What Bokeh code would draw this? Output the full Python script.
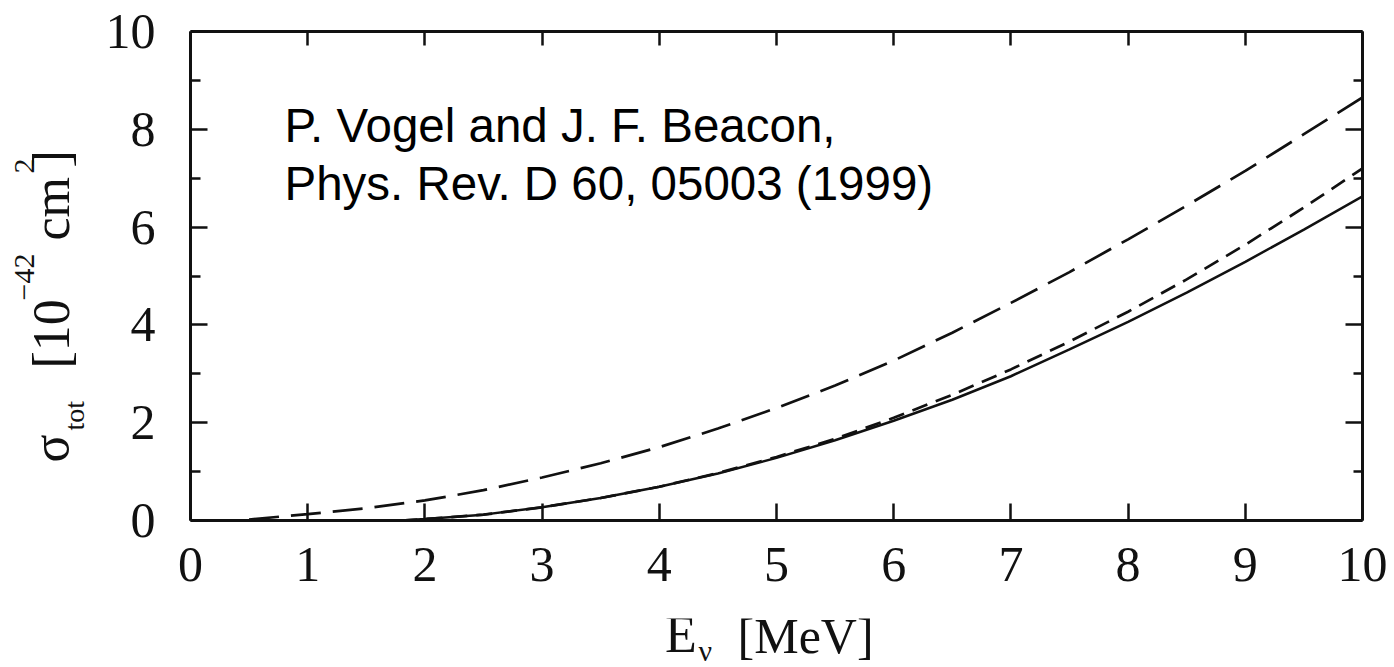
import math
from bokeh.plotting import figure
from bokeh.layouts import row, column
from bokeh.models import Range1d, LinearAxis, FixedTicker, Label, ColumnDataSource, CustomJSTickFormatter
from bokeh.core.properties import value
from bokeh.embed import file_html
from bokeh.resources import INLINE

# ---- data ----
x_long = [0.5, 1.0, 1.5, 2.0, 2.5, 3.0, 3.5, 4.0, 4.5, 5.0, 5.5, 6.0, 6.5, 7.0, 7.5, 8.0, 8.5, 9.0, 9.5, 10.0]
y_long = [0.02, 0.13, 0.25, 0.41, 0.62, 0.88, 1.17, 1.50, 1.88, 2.30, 2.76, 3.27, 3.84, 4.45, 5.08, 5.75, 6.44, 7.15, 7.90, 8.65]

x_short = [1.8, 2.0, 2.5, 3.0, 3.5, 4.0, 4.5, 5.0, 5.5, 6.0, 6.5, 7.0, 7.5, 8.0, 8.5, 9.0, 9.5, 10.0]
y_short = [0.0, 0.03, 0.12, 0.27, 0.46, 0.69, 0.97, 1.30, 1.67, 2.10, 2.57, 3.09, 3.66, 4.27, 4.93, 5.64, 6.40, 7.20]

x_solid = [1.8, 2.0, 2.5, 3.0, 3.5, 4.0, 4.5, 5.0, 5.5, 6.0, 6.5, 7.0, 7.5, 8.0, 8.5, 9.0, 9.5, 10.0]
y_solid = [0.0, 0.03, 0.12, 0.27, 0.46, 0.69, 0.96, 1.28, 1.64, 2.04, 2.47, 2.95, 3.50, 4.06, 4.66, 5.29, 5.95, 6.63]

x_ticks = [0, 1, 2, 3, 4, 5, 6, 7, 8, 9, 10]
y_major = [0, 2, 4, 6, 8, 10]
y_minor = [1, 3, 5, 7, 9]

note_lines = ["P. Vogel and J. F. Beacon,", "Phys. Rev. D 60, 05003 (1999)"]

# ---- layout (pixels of the whole page) ----
W, H = 1394, 667
LW = 100            # width of the strip holding the rotated y title
BH = 49             # height of the strip holding the x title
MW, MH = W - LW, H - BH
FL, FR, FT, FB = 190, 32, 31, 147   # frame borders in page pixels
XMIN, XMAX, YMIN, YMAX = 0, 10, 0, 10
FW, FH = W - FL - FR, H - FT - FB

def dx(px):
    return XMIN + (px - FL) * (XMAX - XMIN) / FW

def dy(py):
    return YMIN + (FT + FH - py) * (YMAX - YMIN) / FH

SERIF = "Liberation Serif"
SANS = "Liberation Sans"
INK = "#111111"

def bare(width, height, xr, yr):
    f = figure(width=width, height=height, x_range=xr, y_range=yr,
               output_backend="svg", toolbar_location=None,
               x_axis_type=None, y_axis_type=None,
               min_border_left=0, min_border_right=0, min_border_top=0, min_border_bottom=0)
    f.outline_line_color = None
    f.background_fill_color = "white"
    f.border_fill_color = "white"
    return f

# ---- main plot ----
p = figure(width=MW, height=MH, x_range=Range1d(XMIN, XMAX), y_range=Range1d(YMIN, YMAX),
           output_backend="svg", toolbar_location=None,
           x_axis_type=None, y_axis_type=None,
           min_border_left=FL - LW, min_border_right=FR, min_border_top=FT,
           min_border_bottom=FB - BH)
p.outline_line_color = None
p.background_fill_color = "white"
p.border_fill_color = "white"

blank = CustomJSTickFormatter(code="return ''")

def style_axis(ax, major_in, minor_in, show_labels):
    ax.axis_line_width = 3
    ax.axis_line_color = INK
    ax.major_tick_in = major_in
    ax.major_tick_out = 0
    ax.minor_tick_in = minor_in
    ax.minor_tick_out = 0
    ax.major_tick_line_width = 2.5
    ax.minor_tick_line_width = 2.5
    ax.major_tick_line_color = INK
    ax.minor_tick_line_color = INK
    if show_labels:
        ax.major_label_text_font = SERIF
        ax.major_label_text_font_size = "50px"
        ax.major_label_text_color = INK
    else:
        ax.formatter = blank
        ax.major_label_standoff = 0

bottom = LinearAxis(ticker=FixedTicker(ticks=x_ticks, minor_ticks=[]))
style_axis(bottom, 17, 0, True)
bottom.major_label_standoff = 27
p.add_layout(bottom, "below")

top = LinearAxis(ticker=FixedTicker(ticks=x_ticks, minor_ticks=[]))
style_axis(top, 14, 0, False)
p.add_layout(top, "above")

left = LinearAxis(ticker=FixedTicker(ticks=y_major, minor_ticks=y_minor))
style_axis(left, 17, 10, True)
left.major_label_standoff = 35
p.add_layout(left, "left")

right = LinearAxis(ticker=FixedTicker(ticks=y_major, minor_ticks=y_minor))
style_axis(right, 17, 9, False)
p.add_layout(right, "right")

p.line(x_long, y_long, line_color=INK, line_width=2.7, line_dash="30 12")
p.line(x_short, y_short, line_color=INK, line_width=2.7, line_dash="16 9")
p.line(x_solid, y_solid, line_color=INK, line_width=2.5)

for i, txt in enumerate(note_lines):
    p.add_layout(Label(x=dx(284), y=dy(125 + 58 * i), text=txt,
                       text_font=SANS, text_font_size="47.5px", text_color="black",
                       text_align="left", text_baseline="alphabetic"))

# ---- y title strip: sigma_tot [10^-42 cm^2], rotated ----
ylab = bare(LW, H, Range1d(0, LW), Range1d(0, H))
ypieces = [
    ("σ", 50, 462, "52px"),
    ("tot", 74, 430, "28px"),
    ("[10", 51, 368, "52px"),
    ("−42", 24, 300, "30px"),
    ("cm", 51, 240, "52px"),
    ("2", 24, 173, "30px"),
    ("]", 51, 167, "52px"),
]
ysrc = ColumnDataSource(dict(
    x=[px for _, px, _, _ in ypieces],
    y=[H - py for _, _, py, _ in ypieces],
    t=[t for t, _, _, _ in ypieces],
    fs=[f for _, _, _, f in ypieces],
))
ylab.text(x="x", y="y", text="t", text_font_size="fs", source=ysrc, angle=math.pi / 2,
          text_font=value(SERIF), text_color=INK, text_align="left", text_baseline="alphabetic")

# ---- x title strip: E_nu [MeV] ----
xlab = bare(MW, BH, Range1d(0, MW), Range1d(0, BH))
xpieces = [
    ("E", 624, 634, "52px"),
    ("ν", 661, 650, "30px"),
    ("[MeV]", 704, 635, "50px"),
]
xsrc = ColumnDataSource(dict(
    x=[px - LW for _, px, _, _ in xpieces],
    y=[H - py for _, _, py, _ in xpieces],
    t=[t for t, _, _, _ in xpieces],
    fs=[f for _, _, _, f in xpieces],
))
xlab.text(x="x", y="y", text="t", text_font_size="fs", source=xsrc,
          text_font=value(SERIF), text_color=INK, text_align="left", text_baseline="alphabetic")

layout = row(ylab, column(p, xlab, spacing=0), spacing=0)
open("out.html", "w").write(file_html(layout, INLINE))
